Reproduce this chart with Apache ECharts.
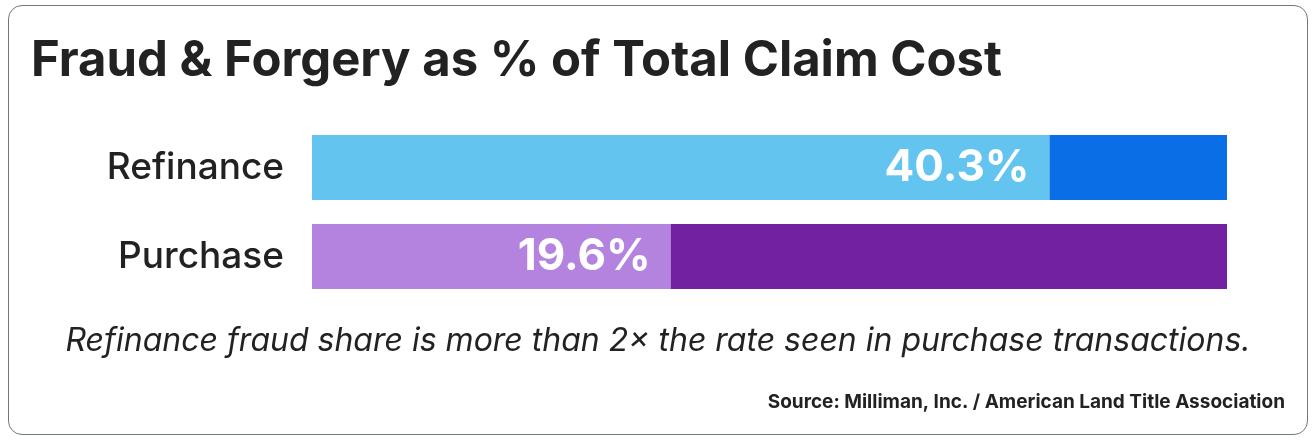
<!DOCTYPE html>
<html><head><meta charset="utf-8">
<script src="https://cdn.jsdelivr.net/npm/echarts@6/dist/echarts.min.js"></script>
<style>html,body{margin:0;padding:0;background:#fff}
#card{position:absolute;left:8px;top:5px;width:1298px;height:428px;border:1.5px solid #6b7a7a;border-radius:14px;}
#c{position:absolute;left:0;top:0;width:1316px;height:440px}</style></head>
<body><div id="card"></div><div id="c"></div>
<script>
const categories = ["Refinance", "Purchase"];
const shareValues = [40.3, 19.6];
const scaleMax = 50;
const lightColors = ["#62C4EF", "#B383DF"];
const darkColors = ["#0A6FE6", "#7222A0"];

const chart = echarts.init(document.getElementById('c'));
const fontFam = 'Inter, Lato, "Noto Sans", sans-serif';
chart.setOption({
  animation:false,
  title:[
    {text:'Fraud & Forgery as % of Total Claim Cost',left:26,top:32,textStyle:{fontFamily:fontFam,fontSize:49,fontWeight:'bold',color:'#222'}},
    {text:'Refinance fraud share is more than 2× the rate seen in purchase transactions.',left:'center',top:320,textStyle:{fontFamily:fontFam,fontSize:32,fontStyle:'italic',fontWeight:'normal',color:'#222'}},
    {text:'Source: Milliman, Inc. / American Land Title Association',right:26,top:388,textStyle:{fontFamily:fontFam,fontSize:19,fontWeight:'bold',color:'#222'}}
  ],
  grid:{left:312,right:89,top:123,bottom:139},
  xAxis:{type:'value',min:0,max:scaleMax,show:false},
  yAxis:{type:'category',data:categories,inverse:true,axisLine:{show:false},axisTick:{show:false},
    axisLabel:{fontFamily:fontFam,fontSize:37,fontWeight:500,color:'#222',margin:28}},
  series:[
    {type:'bar',stack:'s',barWidth:65,data:shareValues.map((v,i)=>({value:v,itemStyle:{color:lightColors[i]}})),
     label:{show:true,position:'insideRight',formatter:p=>p.value+'%',color:'#fff',fontFamily:fontFam,fontWeight:'bold',fontSize:44,distance:20}},
    {type:'bar',stack:'s',barWidth:65,data:shareValues.map((v,i)=>({value:+(scaleMax-v).toFixed(1),itemStyle:{color:darkColors[i]}}))}
  ]
});
</script></body></html>
